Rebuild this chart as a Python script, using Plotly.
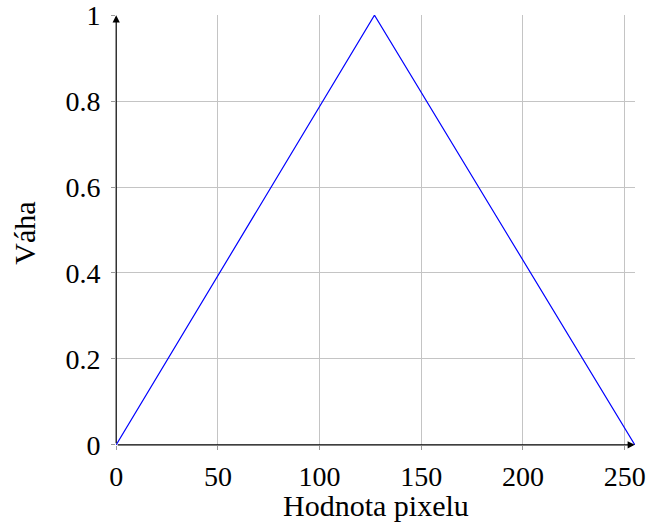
import plotly.graph_objects as go

x_vals = [0, 127, 255]
y_vals = [0, 1, 0]
x_ticks = [0, 50, 100, 150, 200, 250]
y_ticks = [0, 0.2, 0.4, 0.6, 0.8, 1]
y_tick_text = ["0", "0.2", "0.4", "0.6", "0.8", "1"]

FONT = "Liberation Serif"
FS = 28
TFS = 30

fig = go.Figure()
fig.add_trace(go.Scatter(x=x_vals, y=y_vals, mode="lines",
                         line=dict(color="#0000ff", width=1.2),
                         showlegend=False, hoverinfo="skip"))

fig.update_layout(
    width=647, height=522,
    margin=dict(l=116, r=12, t=15, b=77, autoexpand=False),
    paper_bgcolor="white", plot_bgcolor="white",
    font=dict(family=FONT, size=FS, color="black"),
    xaxis=dict(range=[-0.1, 255.1], tickvals=x_ticks, showgrid=True, automargin=False,
               gridcolor="#c4c4c4", gridwidth=1, zeroline=False,
               showline=False, ticks="outside", ticklen=4, tickcolor="#999",
               ticklabelstandoff=2, tickfont=dict(size=FS)),
    yaxis=dict(range=[-0.0005, 1.0005], tickvals=y_ticks, ticktext=y_tick_text,
               showgrid=True, automargin=False,
               gridcolor="#c4c4c4", gridwidth=1, zeroline=False,
               showline=False, ticks="outside", ticklen=4, tickcolor="#999",
               ticklabelstandoff=5, tickfont=dict(size=FS)),
)

# axis titles
fig.add_annotation(text="Hodnota pixelu", xref="paper", yref="paper", x=0.501, y=-0.14,
                   xanchor="center", yanchor="middle", showarrow=False,
                   font=dict(size=TFS))
fig.add_annotation(text="Váha", xref="paper", yref="paper", x=-0.178, y=0.493,
                   xanchor="center", yanchor="middle", showarrow=False, textangle=-90,
                   font=dict(size=TFS))

# axis lines with arrows
fig.add_annotation(x=255, y=0, ax=0, ay=0, xref="x", yref="y", axref="x", ayref="y",
                   showarrow=True, arrowhead=2, arrowsize=1.2, arrowwidth=1.2,
                   arrowcolor="black", text="")
fig.add_annotation(x=0, y=1, ax=0, ay=0, xref="x", yref="y", axref="x", ayref="y",
                   showarrow=True, arrowhead=2, arrowsize=1.2, arrowwidth=1.2,
                   arrowcolor="black", text="")

fig.write_html("out.html", config={"displayModeBar": False},
               post_script="document.body.style.margin='0';document.body.style.overflow='hidden';")
